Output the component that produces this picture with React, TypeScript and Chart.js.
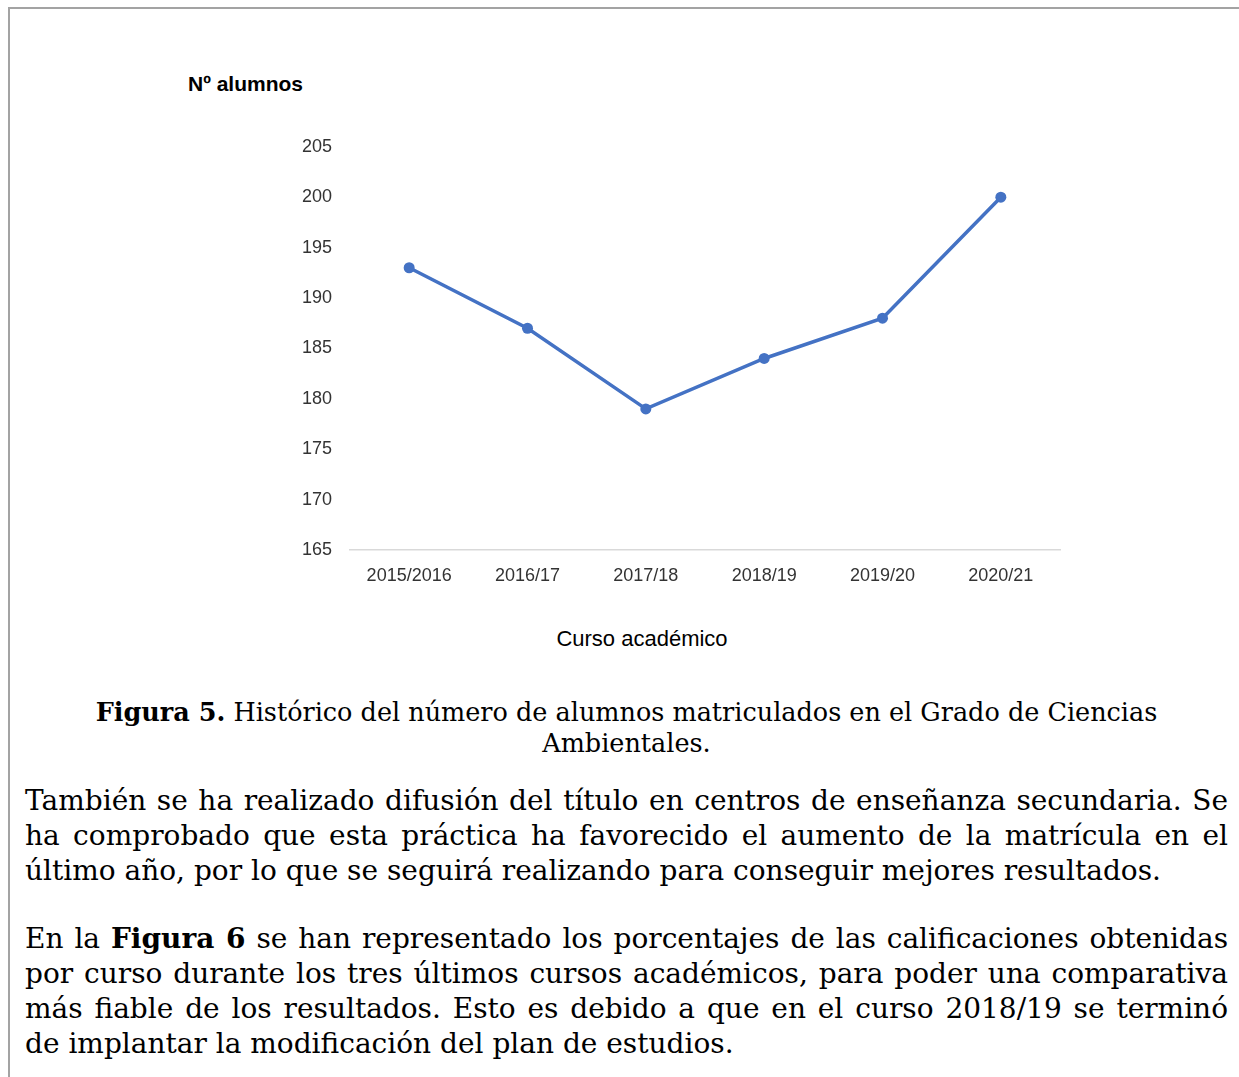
import React, { useEffect, useRef } from "react";
import { Chart, registerables } from "chart.js";

Chart.register(...registerables);

const categories = ["2015/2016", "2016/17", "2017/18", "2018/19", "2019/20", "2020/21"];
const alumnos = [193, 187, 179, 184, 188, 200];
const yMin = 165;
const yMax = 205;
const yStep = 5;

const yTitle = "Nº alumnos";
const xTitle = "Curso académico";

const captionLines = [
  [{ b: "Figura 5." }, { t: " Histórico del número de alumnos matriculados en el Grado de Ciencias" }],
  [{ t: "Ambientales." }],
];

const para1 = [
  "También se ha realizado difusión del título en centros de enseñanza secundaria. Se",
  "ha comprobado que esta práctica ha favorecido el aumento de la matrícula en el",
  "último año, por lo que se seguirá realizando para conseguir mejores resultados.",
];

const para2: any[] = [
  [{ t: "En la " }, { b: "Figura 6" }, { t: " se han representado los porcentajes de las calificaciones obtenidas" }],
  [{ t: "por curso durante los tres últimos cursos académicos, para poder una comparativa" }],
  [{ t: "más fiable de los resultados. Esto es debido a que en el curso 2018/19 se terminó" }],
  [{ t: "de implantar la modificación del plan de estudios." }],
];

const SERIF = '"DejaVu Serif", serif';

function Segs({ segs }: { segs: any[] }) {
  return (
    <>
      {segs.map((s, i) =>
        s.b ? <b key={i}>{s.b}</b> : <span key={i}>{s.t}</span>
      )}
    </>
  );
}

function JustLine({ top, children, last }: { top: number; children: any; last?: boolean }) {
  return (
    <div
      style={{
        position: "absolute",
        left: 25,
        width: 1203,
        top,
        height: 35,
        lineHeight: "35px",
        fontFamily: SERIF,
        fontSize: 28,
        color: "#000",
        whiteSpace: "nowrap",
        textAlign: "justify",
        textAlignLast: last ? "left" : "justify",
      } as any}
    >
      {children}
    </div>
  );
}

export default function App() {
  const canvasRef = useRef<HTMLCanvasElement | null>(null);

  useEffect(() => {
    const ctx = canvasRef.current!;
    const chart = new Chart(ctx, {
      type: "line",
      data: {
        labels: categories,
        datasets: [
          {
            data: alumnos,
            borderColor: "#4472C4",
            backgroundColor: "#4472C4",
            borderWidth: 3.5,
            pointRadius: 5.5,
            pointBackgroundColor: "#4472C4",
            pointBorderColor: "#4472C4",
            pointBorderWidth: 0,
            tension: 0,
          },
        ],
      },
      options: {
        animation: false,
        responsive: false,
        maintainAspectRatio: false,
        events: [],
        layout: { padding: { left: 0, top: 24, right: 20, bottom: 0 } },
        plugins: {
          legend: { display: false },
          tooltip: { enabled: false },
          title: { display: false },
        },
        scales: {
          x: {
            type: "category",
            offset: true,
            grid: { display: false, drawTicks: false },
            border: { display: true, color: "#d9d9d9", width: 1.5 },
            ticks: {
              color: "#333333",
              font: { family: '"Liberation Sans", Arial, sans-serif', size: 18 },
              padding: 15,
              maxRotation: 0,
              autoSkip: false,
            },
            afterFit: (s: any) => {
              s.height = 48;
            },
          },
          y: {
            min: yMin,
            max: yMax,
            grid: { display: false, drawTicks: false },
            border: { display: false },
            ticks: {
              stepSize: yStep,
              color: "#333333",
              font: { family: '"Liberation Sans", Arial, sans-serif', size: 18 },
              padding: 18,
            },
            afterFit: (s: any) => {
              s.width = 70;
            },
          },
        },
      },
    } as any);
    return () => chart.destroy();
  }, []);

  return (
    <div
      style={{
        position: "absolute",
        left: 0,
        top: 0,
        width: 1239,
        height: 1077,
        overflow: "hidden",
        background: "#fff",
      }}
    >
      <div
        style={{
          position: "absolute",
          left: 8,
          top: 7,
          width: 1300,
          height: 1200,
          borderTop: "2px solid #a3a3a3",
          borderLeft: "2px solid #a3a3a3",
        }}
      />
      <canvas
        ref={canvasRef}
        width={800}
        height={480}
        style={{ position: "absolute", left: 280, top: 118, width: 800, height: 480 }}
      />
      <div
        style={{
          position: "absolute",
          left: 188,
          top: 71,
          fontFamily: '"Liberation Sans", Arial, sans-serif',
          fontSize: 21,
          fontWeight: "bold",
          lineHeight: "26px",
          color: "#000",
          whiteSpace: "nowrap",
        }}
      >
        {yTitle}
      </div>
      <div
        style={{
          position: "absolute",
          left: 442,
          width: 400,
          top: 626,
          textAlign: "center",
          fontFamily: '"Liberation Sans", Arial, sans-serif',
          fontSize: 22,
          lineHeight: "26px",
          color: "#000",
          whiteSpace: "nowrap",
        }}
      >
        {xTitle}
      </div>
      {captionLines.map((segs, i) => (
        <div
          key={"c" + i}
          style={{
            position: "absolute",
            left: 25,
            width: 1203,
            top: 697 + i * 31,
            height: 31,
            lineHeight: "31px",
            textAlign: "center",
            fontFamily: SERIF,
            fontSize: 25.5,
            color: "#000",
            whiteSpace: "nowrap",
          }}
        >
          <Segs segs={segs} />
        </div>
      ))}
      {para1.map((l, i) => (
        <JustLine key={"p1" + i} top={783 + i * 35} last={i === para1.length - 1}>
          {l}
        </JustLine>
      ))}
      {para2.map((segs, i) => (
        <JustLine key={"p2" + i} top={921 + i * 35} last={i === para2.length - 1}>
          <Segs segs={segs} />
        </JustLine>
      ))}
    </div>
  );
}
